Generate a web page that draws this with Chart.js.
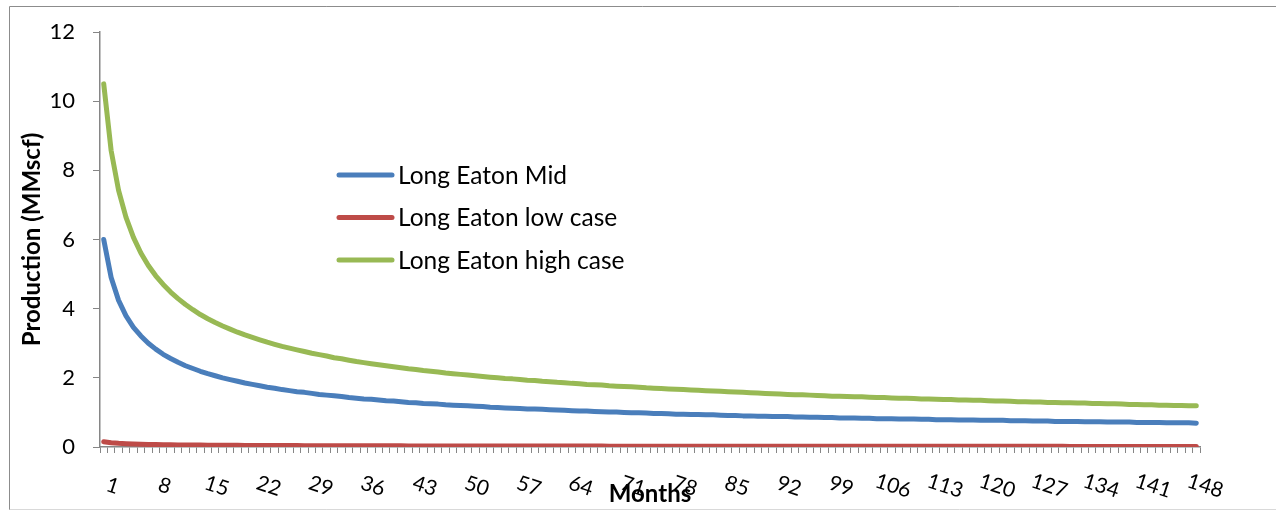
<!DOCTYPE html>
<html>
<head>
<meta charset="utf-8">
<script src="https://cdn.jsdelivr.net/npm/chart.js@4/dist/chart.umd.min.js"></script>
<style>
  body { margin: 0; background: #fff; }
  canvas { display: block; }
</style>
</head>
<body>
<canvas id="myChart" width="1276" height="513"></canvas>
<script>
// months 1..148
const months = [
  1,2,3,4,5,6,7,8,9,10,11,12,13,14,15,16,17,18,19,20,
  21,22,23,24,25,26,27,28,29,30,31,32,33,34,35,36,37,38,39,40,
  41,42,43,44,45,46,47,48,49,50,51,52,53,54,55,56,57,58,59,60,
  61,62,63,64,65,66,67,68,69,70,71,72,73,74,75,76,77,78,79,80,
  81,82,83,84,85,86,87,88,89,90,91,92,93,94,95,96,97,98,99,100,
  101,102,103,104,105,106,107,108,109,110,111,112,113,114,115,116,117,118,119,120,
  121,122,123,124,125,126,127,128,129,130,131,132,133,134,135,136,137,138,139,140,
  141,142,143,144,145,146,147,148
];
const tickLabels = [1,8,15,22,29,36,43,50,57,64,71,78,85,92,99,106,113,120,127,134,141,148];

const midCase = [
  6.00, 4.90, 4.24, 3.79, 3.46, 3.21, 3.00, 2.83, 2.68, 2.56,
  2.45, 2.35, 2.27, 2.19, 2.12, 2.06, 2.00, 1.95, 1.90, 1.85,
  1.81, 1.77, 1.73, 1.70, 1.66, 1.63, 1.60, 1.58, 1.55, 1.52,
  1.50, 1.48, 1.46, 1.43, 1.41, 1.39, 1.38, 1.36, 1.34, 1.33,
  1.31, 1.29, 1.28, 1.26, 1.25, 1.24, 1.22, 1.21, 1.20, 1.19,
  1.18, 1.17, 1.15, 1.14, 1.13, 1.12, 1.11, 1.10, 1.10, 1.09,
  1.08, 1.07, 1.06, 1.05, 1.04, 1.04, 1.03, 1.02, 1.01, 1.01,
  1.00, 0.99, 0.99, 0.98, 0.97, 0.97, 0.96, 0.95, 0.95, 0.94,
  0.94, 0.93, 0.93, 0.92, 0.91, 0.91, 0.90, 0.90, 0.89, 0.89,
  0.88, 0.88, 0.88, 0.87, 0.87, 0.86, 0.86, 0.85, 0.85, 0.84,
  0.84, 0.84, 0.83, 0.83, 0.82, 0.82, 0.82, 0.81, 0.81, 0.81,
  0.80, 0.80, 0.79, 0.79, 0.79, 0.78, 0.78, 0.78, 0.77, 0.77,
  0.77, 0.77, 0.76, 0.76, 0.76, 0.75, 0.75, 0.75, 0.74, 0.74,
  0.74, 0.74, 0.73, 0.73, 0.73, 0.72, 0.72, 0.72, 0.72, 0.71,
  0.71, 0.71, 0.71, 0.70, 0.70, 0.70, 0.70, 0.69
];

const lowCase = [
  0.150, 0.122, 0.106, 0.095, 0.087, 0.080, 0.075, 0.071, 0.067, 0.064,
  0.061, 0.059, 0.057, 0.055, 0.053, 0.051, 0.050, 0.049, 0.047, 0.046,
  0.045, 0.044, 0.043, 0.042, 0.042, 0.041, 0.040, 0.039, 0.039, 0.038,
  0.038, 0.037, 0.036, 0.036, 0.035, 0.035, 0.034, 0.034, 0.034, 0.033,
  0.033, 0.032, 0.032, 0.032, 0.031, 0.031, 0.031, 0.030, 0.030, 0.030,
  0.029, 0.029, 0.029, 0.029, 0.028, 0.028, 0.028, 0.028, 0.027, 0.027,
  0.027, 0.027, 0.027, 0.026, 0.026, 0.026, 0.026, 0.026, 0.025, 0.025,
  0.025, 0.025, 0.025, 0.024, 0.024, 0.024, 0.024, 0.024, 0.024, 0.024,
  0.023, 0.023, 0.023, 0.023, 0.023, 0.023, 0.023, 0.022, 0.022, 0.022,
  0.022, 0.022, 0.022, 0.022, 0.022, 0.022, 0.021, 0.021, 0.021, 0.021,
  0.021, 0.021, 0.021, 0.021, 0.021, 0.021, 0.020, 0.020, 0.020, 0.020,
  0.020, 0.020, 0.020, 0.020, 0.020, 0.020, 0.020, 0.019, 0.019, 0.019,
  0.019, 0.019, 0.019, 0.019, 0.019, 0.019, 0.019, 0.019, 0.019, 0.019,
  0.018, 0.018, 0.018, 0.018, 0.018, 0.018, 0.018, 0.018, 0.018, 0.018,
  0.018, 0.018, 0.018, 0.018, 0.018, 0.017, 0.017, 0.017
];

const highCase = [
  10.50, 8.57, 7.42, 6.64, 6.06, 5.61, 5.25, 4.95, 4.70, 4.48,
  4.29, 4.12, 3.97, 3.83, 3.71, 3.60, 3.50, 3.41, 3.32, 3.24,
  3.17, 3.10, 3.03, 2.97, 2.91, 2.86, 2.81, 2.76, 2.71, 2.67,
  2.63, 2.58, 2.55, 2.51, 2.47, 2.44, 2.41, 2.38, 2.35, 2.32,
  2.29, 2.26, 2.24, 2.21, 2.19, 2.17, 2.14, 2.12, 2.10, 2.08,
  2.06, 2.04, 2.02, 2.00, 1.98, 1.97, 1.95, 1.93, 1.92, 1.90,
  1.89, 1.87, 1.86, 1.84, 1.83, 1.81, 1.80, 1.79, 1.77, 1.76,
  1.75, 1.74, 1.73, 1.71, 1.70, 1.69, 1.68, 1.67, 1.66, 1.65,
  1.64, 1.63, 1.62, 1.61, 1.60, 1.59, 1.58, 1.57, 1.56, 1.55,
  1.54, 1.53, 1.52, 1.51, 1.51, 1.50, 1.49, 1.48, 1.47, 1.47,
  1.46, 1.45, 1.45, 1.44, 1.43, 1.43, 1.42, 1.41, 1.41, 1.40,
  1.39, 1.39, 1.38, 1.37, 1.37, 1.36, 1.36, 1.35, 1.35, 1.34,
  1.33, 1.33, 1.32, 1.31, 1.31, 1.30, 1.30, 1.29, 1.29, 1.28,
  1.28, 1.27, 1.27, 1.26, 1.26, 1.25, 1.25, 1.24, 1.23, 1.23,
  1.22, 1.22, 1.21, 1.21, 1.20, 1.20, 1.19, 1.19
];

const seriesNames = ['Long Eaton Mid', 'Long Eaton low case', 'Long Eaton high case'];
const seriesColors = ['#4a7ebb', '#be4b48', '#98b954'];

const FONT = 'Lato, "Open Sans", sans-serif';
const axisGray = '#868686';

// frame, slanted month labels, "Months" title and the in-plot legend
const extras = {
  id: 'extras',
  beforeDraw(chart) {
    const ctx = chart.ctx;
    ctx.save();
    ctx.fillStyle = '#fff';
    ctx.fillRect(0, 0, chart.width, chart.height);
    ctx.lineWidth = 1;
    ctx.strokeStyle = '#8c8c8c';
    ctx.beginPath();
    ctx.moveTo(9.5, 510);
    ctx.lineTo(9.5, 6.5);
    ctx.lineTo(1276, 6.5);
    ctx.stroke();
    ctx.strokeStyle = '#d9d9d9';
    ctx.beginPath();
    ctx.moveTo(9.5, 509.5);
    ctx.lineTo(1276, 509.5);
    ctx.stroke();
    ctx.restore();
  },
  afterDraw(chart) {
    const ctx = chart.ctx;
    const xs = chart.scales.x;
    ctx.save();
    ctx.fillStyle = '#000';
    ctx.font = '21px ' + FONT;
    ctx.textAlign = 'center';
    ctx.textBaseline = 'middle';
    tickLabels.forEach(m => {
      const x = xs.getPixelForValue(months.indexOf(m));
      ctx.save();
      ctx.translate(x + 9, 486);
      ctx.rotate(18 * Math.PI / 180);
      ctx.fillText(String(m), 0, 0);
      ctx.restore();
    });

    ctx.font = 'bold 24px ' + FONT;
    ctx.fillText('Months', (chart.chartArea.left + chart.chartArea.right) / 2, 494);

    // legend
    ctx.font = '24.5px ' + FONT;
    ctx.textAlign = 'left';
    ctx.lineCap = 'round';
    ctx.lineWidth = 5;
    seriesNames.forEach((name, i) => {
      const y = 175 + i * 42.5;
      ctx.strokeStyle = seriesColors[i];
      ctx.beginPath();
      ctx.moveTo(339, y);
      ctx.lineTo(392, y);
      ctx.stroke();
      ctx.fillStyle = '#000';
      ctx.fillText(name, 398, y + 1);
    });
    ctx.restore();
  }
};

const datasets = [midCase, lowCase, highCase].map((vals, i) => ({
  label: seriesNames[i],
  data: vals,
  borderColor: seriesColors[i],
  backgroundColor: seriesColors[i],
  borderWidth: 5,
  borderCapStyle: 'round',
  borderJoinStyle: 'round',
  pointRadius: 0,
  tension: 0,
  fill: false
}));

new Chart(document.getElementById('myChart'), {
  type: 'line',
  data: { labels: months, datasets: datasets },
  options: {
    responsive: false,
    animation: false,
    layout: { padding: { left: 10, top: 32, right: 76, bottom: 6 } },
    plugins: {
      legend: { display: false },
      tooltip: { enabled: false }
    },
    scales: {
      x: {
        type: 'category',
        offset: true,
        grid: {
          display: true,
          offset: true,
          drawOnChartArea: false,
          drawTicks: true,
          tickLength: 6,
          color: axisGray,
          lineWidth: 1
        },
        border: { color: axisGray, width: 1.5 },
        ticks: { display: false },
        afterFit(scale) { scale.height = 60; }
      },
      y: {
        min: 0,
        max: 12,
        ticks: {
          stepSize: 2,
          color: '#000',
          padding: 18,
          font: { family: FONT, size: 22 }
        },
        grid: {
          drawOnChartArea: false,
          drawTicks: true,
          tickLength: 7,
          color: axisGray
        },
        border: { color: axisGray, width: 1.5 },
        title: {
          display: true,
          text: 'Production (MMscf)',
          color: '#000',
          font: { family: FONT, size: 24, weight: 'bold' },
          padding: { top: 8, bottom: 0 }
        },
        afterFit(scale) { scale.width = 90; }
      }
    }
  },
  plugins: [extras]
});
</script>
</body>
</html>
